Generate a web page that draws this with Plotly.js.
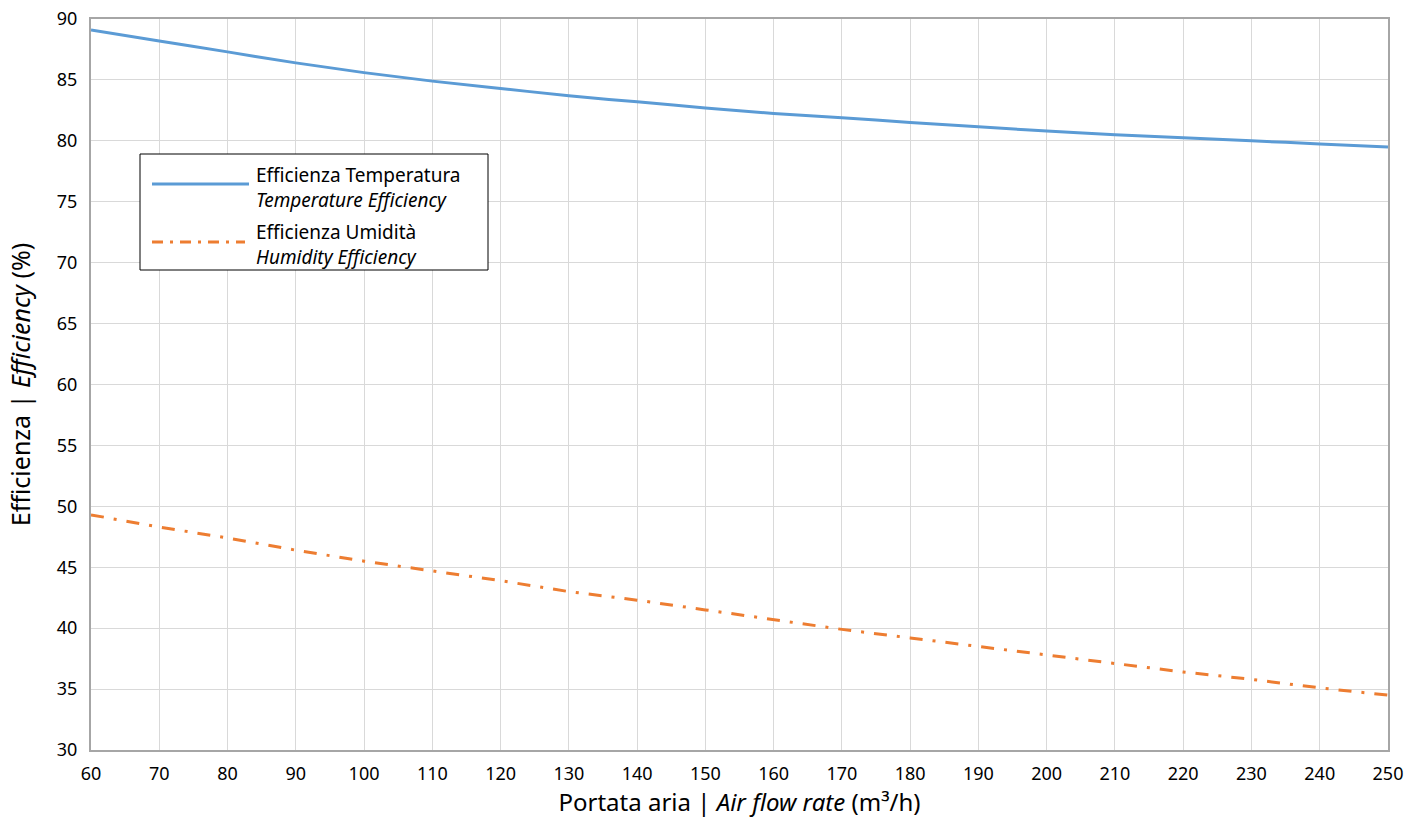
<!DOCTYPE html>
<html>
<head>
<meta charset="utf-8">
<script src="https://cdn.plot.ly/plotly-3.0.1.min.js"></script>
<style>html,body{margin:0;padding:0;background:#fff;}#chart{width:1425px;height:823px;}</style>
</head>
<body>
<div id="chart"></div>
<script>
const airFlow = [60,70,80,90,100,110,120,130,140,150,160,170,180,190,200,210,220,230,240,250];
const tempEfficiency = [89.1,88.2,87.3,86.4,85.6,84.9,84.3,83.7,83.2,82.7,82.25,81.9,81.5,81.15,80.8,80.5,80.25,80.0,79.75,79.5];
const humEfficiency = [49.3,48.3,47.4,46.4,45.5,44.7,43.9,43.0,42.3,41.5,40.7,39.9,39.2,38.5,37.8,37.1,36.4,35.8,35.1,34.5];
const seriesNames = ["Efficienza Temperatura", "Efficienza Umidità"];
const seriesNamesEn = ["Temperature Efficiency", "Humidity Efficiency"];
const xTicks = [60,70,80,90,100,110,120,130,140,150,160,170,180,190,200,210,220,230,240,250];
const yTicks = [30,35,40,45,50,55,60,65,70,75,80,85,90];

const FONT = "Noto Sans, Open Sans, sans-serif";
const blue = "#5B9BD5", orange = "#ED7D31";

const W = 1425, H = 823, L = 91, R = 1388, T = 19, B = 750;
const px = x => (x - L) / (R - L);
const py = y => (B - y) / (B - T);

const traces = [
  {x: airFlow, y: tempEfficiency, mode: "lines", name: seriesNames[0], line: {color: blue, width: 3, shape: "spline"}, showlegend: false},
  {x: airFlow, y: humEfficiency, mode: "lines", name: seriesNames[1], line: {color: orange, width: 3, dash: "13px,10px,3px,10px"}, showlegend: false}
];

const layout = {
  width: W, height: H,
  margin: {l: L, r: W - R, t: T, b: H - B},
  paper_bgcolor: "#fff", plot_bgcolor: "#fff",
  font: {family: FONT, size: 18, color: "#000"},
  xaxis: {
    range: [60, 250], tickvals: xTicks, ticktext: xTicks.map(String),
    showgrid: true, gridcolor: "#d9d9d9", gridwidth: 1,
    showline: true, linecolor: "#a6a6a6", linewidth: 2, mirror: true,
    zeroline: false, ticks: "", tickfont: {size: 18}, ticklabelstandoff: 6,
    title: {text: "Portata aria | <i>Air flow rate</i> (m³/h)", font: {size: 24}, standoff: 6}
  },
  yaxis: {
    range: [30, 90], tickvals: yTicks, ticktext: yTicks.map(String),
    showgrid: true, gridcolor: "#d9d9d9", gridwidth: 1,
    showline: true, linecolor: "#a6a6a6", linewidth: 2, mirror: true,
    zeroline: false, ticks: "", tickfont: {size: 18}, ticklabelstandoff: 8,
    title: {text: "Efficienza | <i>Efficiency</i> (%)", font: {size: 25}, standoff: 19}
  },
  shapes: [
    {type: "rect", xref: "paper", yref: "paper", x0: px(140), x1: px(488), y0: py(270), y1: py(154), line: {color: "#000", width: 1}, fillcolor: "#fff", layer: "above"},
    {type: "line", xref: "paper", yref: "paper", x0: px(152), x1: px(249), y0: py(184), y1: py(184), line: {color: blue, width: 3}, layer: "above"},
    {type: "line", xref: "paper", yref: "paper", x0: px(152), x1: px(245), y0: py(242), y1: py(242), line: {color: orange, width: 3, dash: "11px,7px,3px,7px"}, layer: "above"}
  ],
  annotations: [
    {xref: "paper", yref: "paper", x: px(254), y: py(187), xanchor: "left", yanchor: "middle", showarrow: false, align: "left",
     text: seriesNames[0] + "<br><i>" + seriesNamesEn[0] + "</i>", font: {size: 19, family: FONT}},
    {xref: "paper", yref: "paper", x: px(254), y: py(244), xanchor: "left", yanchor: "middle", showarrow: false, align: "left",
     text: seriesNames[1] + "<br><i>" + seriesNamesEn[1] + "</i>", font: {size: 19, family: FONT}}
  ]
};

Plotly.newPlot("chart", traces, layout, {displayModeBar: false, staticPlot: true});
</script>
</body>
</html>
